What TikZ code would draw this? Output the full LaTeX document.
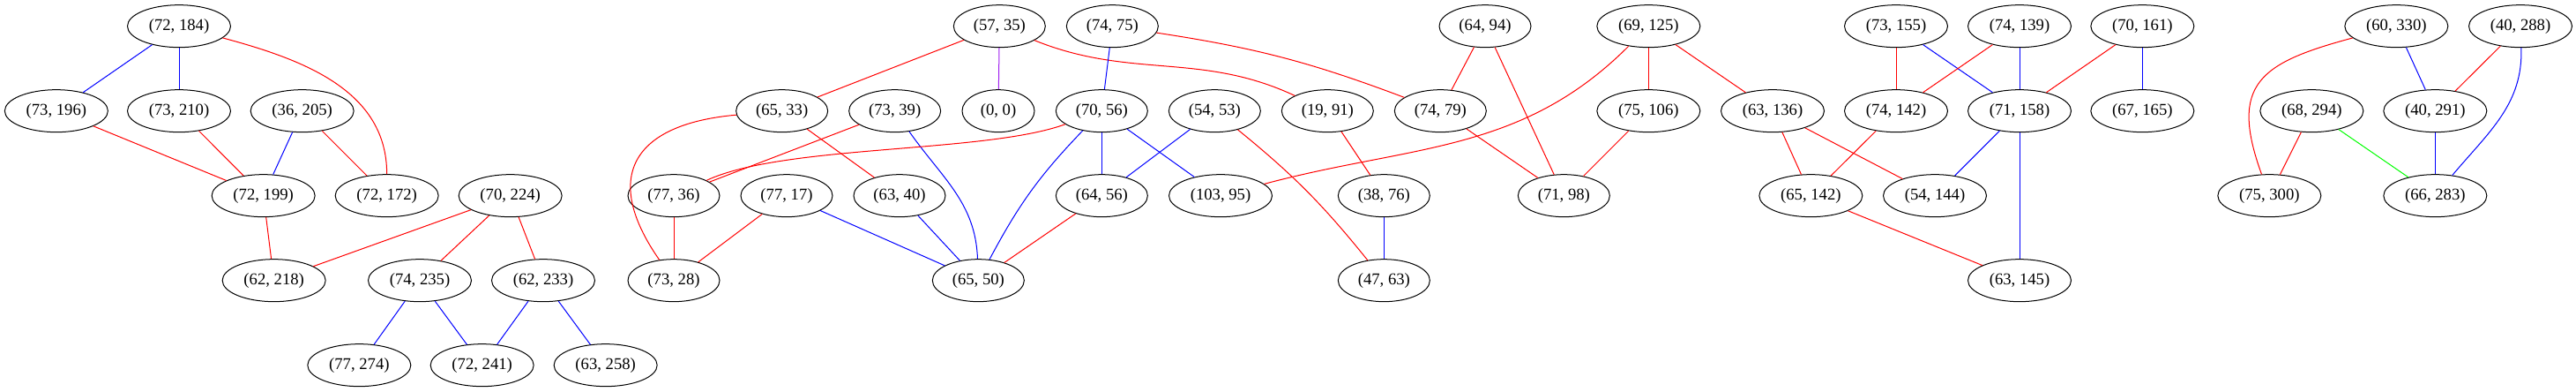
\documentclass[tikz,border=0pt]{standalone}
\usepackage{fontspec}
\setmainfont{Liberation Serif}
\usetikzlibrary{shapes.geometric}

\definecolor{gvPurple}{HTML}{A020F0}
\definecolor{gvGreen}{HTML}{00FF00}

\begin{document}
\begin{tikzpicture}[
    x=1pt, y=1pt,
    font=\fontsize{14}{16}\selectfont,
    vtx/.style={
        ellipse,
        draw=black,
        line width=0.75pt,
        inner sep=0pt,
        minimum width=87.75pt,
        minimum height=36pt
    },
    vtxmid/.style={
        vtx,
        minimum width=78pt
    },
    vtxsmall/.style={
        vtx,
        minimum width=61.5pt
    },
    redLink/.style={draw=red, line width=0.75pt},
    blueLink/.style={draw=blue, line width=0.75pt},
    greenLink/.style={draw=gvGreen, line width=0.75pt},
    purpleLink/.style={draw=gvPurple, line width=0.75pt}
]
    \useasboundingbox (0,0) rectangle (2190.75,332.25);

    % =======================================================
    % Rank 1
    % =======================================================
    \node[vtx] (n72x184) at (152.25, 310) {(72, 184)};
    \node[vtxmid] (n57x35) at (850, 310) {(57, 35)};
    \node[vtxmid] (n74x75) at (946, 310) {(74, 75)};
    \node[vtxmid] (n64x94) at (1263, 310) {(64, 94)};
    \node[vtx] (n69x125) at (1402, 310) {(69, 125)};
    \node[vtx] (n73x155) at (1612.5, 310) {(73, 155)};
    \node[vtx] (n74x139) at (1717.5, 310) {(74, 139)};
    \node[vtx] (n70x161) at (1822, 310) {(70, 161)};
    \node[vtx] (n60x330) at (2038, 310) {(60, 330)};
    \node[vtx] (n40x288) at (2143.5, 310) {(40, 288)};

    % =======================================================
    % Rank 2
    % =======================================================
    \node[vtx] (n73x196) at (47.9, 238) {(73, 196)};
    \node[vtx] (n73x210) at (152.25, 238) {(73, 210)};
    \node[vtx] (n36x205) at (257, 238) {(36, 205)};
    \node[vtxmid] (n65x33) at (665, 238) {(65, 33)};
    \node[vtxmid] (n73x39) at (761, 238) {(73, 39)};
    \node[vtxsmall] (n0x0) at (849, 238) {(0, 0)};
    \node[vtxmid] (n70x56) at (937, 238) {(70, 56)};
    \node[vtxmid] (n54x53) at (1033, 238) {(54, 53)};
    \node[vtxmid] (n19x91) at (1129, 238) {(19, 91)};
    \node[vtxmid] (n74x79) at (1225, 238) {(74, 79)};
    \node[vtx] (n75x106) at (1402, 238) {(75, 106)};
    \node[vtx] (n63x136) at (1507.5, 238) {(63, 136)};
    \node[vtx] (n74x142) at (1612.5, 238) {(74, 142)};
    \node[vtx] (n71x158) at (1717.5, 238) {(71, 158)};
    \node[vtx] (n67x165) at (1822, 238) {(67, 165)};
    \node[vtx] (n68x294) at (1966, 238) {(68, 294)};
    \node[vtx] (n40x291) at (2071, 238) {(40, 291)};

    % =======================================================
    % Rank 3
    % =======================================================
    \node[vtx] (n72x199) at (224, 166) {(72, 199)};
    \node[vtx] (n72x172) at (329, 166) {(72, 172)};
    \node[vtx] (n70x224) at (434, 166) {(70, 224)};
    \node[vtxmid] (n77x36) at (573, 166) {(77, 36)};
    \node[vtxmid] (n77x17) at (669, 166) {(77, 17)};
    \node[vtxmid] (n63x40) at (765, 166) {(63, 40)};
    \node[vtxmid] (n64x56) at (937, 166) {(64, 56)};
    \node[vtx] (n103x95) at (1038, 166) {(103, 95)};
    \node[vtxmid] (n38x76) at (1177, 166) {(38, 76)};
    \node[vtxmid] (n71x98) at (1330, 166) {(71, 98)};
    \node[vtx] (n65x142) at (1540, 166) {(65, 142)};
    \node[vtx] (n54x144) at (1645.5, 166) {(54, 144)};
    \node[vtx] (n75x300) at (1930, 166) {(75, 300)};
    \node[vtx] (n66x283) at (2071, 166) {(66, 283)};

    % =======================================================
    % Rank 4 and 5
    % =======================================================
    \node[vtx] (n62x218) at (233, 94) {(62, 218)};
    \node[vtx] (n74x235) at (357, 94) {(74, 235)};
    \node[vtx] (n62x233) at (462, 94) {(62, 233)};
    \node[vtxmid] (n73x28) at (573, 94) {(73, 28)};
    \node[vtxmid] (n65x50) at (832, 94) {(65, 50)};
    \node[vtxmid] (n47x63) at (1177, 94) {(47, 63)};
    \node[vtx] (n63x145) at (1717.5, 94) {(63, 145)};

    \node[vtx] (n77x274) at (305.5, 22) {(77, 274)};
    \node[vtx] (n72x241) at (410, 22) {(72, 241)};
    \node[vtx] (n63x258) at (515, 22) {(63, 258)};

    % =======================================================
    % Left component
    % =======================================================
    \draw[blueLink] (n72x184) -- (n73x196);
    \draw[blueLink] (n72x184) -- (n73x210);
    \draw[redLink] (n72x184) to[out=-15, in=90] (n72x172);
    \draw[redLink] (n73x196) -- (n72x199);
    \draw[redLink] (n73x210) -- (n72x199);
    \draw[blueLink] (n36x205) -- (n72x199);
    \draw[redLink] (n36x205) -- (n72x172);
    \draw[redLink] (n72x199) -- (n62x218);
    \draw[redLink] (n70x224) -- (n62x218);
    \draw[redLink] (n70x224) -- (n74x235);
    \draw[redLink] (n70x224) -- (n62x233);
    \draw[blueLink] (n74x235) -- (n77x274);
    \draw[blueLink] (n74x235) -- (n72x241);
    \draw[blueLink] (n62x233) -- (n72x241);
    \draw[blueLink] (n62x233) -- (n63x258);

    % =======================================================
    % Middle component
    % =======================================================
    \draw[redLink] (n57x35) -- (n65x33);
    \draw[purpleLink] (n57x35) -- (n0x0);
    \draw[redLink] (n57x35) to[out=-22, in=155] (n19x91);
    \draw[blueLink] (n74x75) -- (n70x56);
    \draw[redLink] (n74x75) to[bend left=6] (n74x79);
    \draw[redLink] (n65x33) to[out=185, in=125, looseness=1.6] (n73x28);
    \draw[redLink] (n65x33) -- (n63x40);
    \draw[redLink] (n73x39) -- (n77x36);
    \draw[blueLink] (n73x39) to[out=-55, in=92] (n65x50);
    \draw[redLink] (n70x56) to[out=200, in=25, looseness=0.6] (n77x36);
    \draw[blueLink] (n70x56) -- (n64x56);
    \draw[blueLink] (n70x56) -- (n103x95);
    \draw[blueLink] (n70x56) to[bend right=8] (n65x50);
    \draw[blueLink] (n54x53) -- (n64x56);
    \draw[redLink] (n54x53) to[bend left=6] (n47x63);
    \draw[redLink] (n77x36) -- (n73x28);
    \draw[redLink] (n77x17) -- (n73x28);
    \draw[blueLink] (n77x17) -- (n65x50);
    \draw[blueLink] (n63x40) -- (n65x50);
    \draw[redLink] (n64x56) -- (n65x50);
    \draw[redLink] (n19x91) -- (n38x76);
    \draw[blueLink] (n38x76) -- (n47x63);
    \draw[redLink] (n64x94) -- (n74x79);
    \draw[redLink] (n64x94) -- (n71x98);
    \draw[redLink] (n74x79) -- (n71x98);
    \draw[redLink] (n69x125) to[out=225, in=15] (n103x95);
    \draw[redLink] (n69x125) -- (n75x106);
    \draw[redLink] (n69x125) -- (n63x136);
    \draw[redLink] (n75x106) -- (n71x98);
    \draw[redLink] (n63x136) -- (n65x142);
    \draw[redLink] (n63x136) -- (n54x144);

    % =======================================================
    % Right components
    % =======================================================
    \draw[redLink] (n73x155) -- (n74x142);
    \draw[blueLink] (n73x155) -- (n71x158);
    \draw[redLink] (n74x139) -- (n74x142);
    \draw[blueLink] (n74x139) -- (n71x158);
    \draw[redLink] (n70x161) -- (n71x158);
    \draw[blueLink] (n70x161) -- (n67x165);
    \draw[redLink] (n74x142) -- (n65x142);
    \draw[blueLink] (n71x158) -- (n54x144);
    \draw[blueLink] (n71x158) -- (n63x145);
    \draw[redLink] (n65x142) -- (n63x145);

    \draw[redLink] (n60x330) to[out=195, in=110, looseness=1.5] (n75x300);
    \draw[blueLink] (n60x330) -- (n40x291);
    \draw[redLink] (n40x288) -- (n40x291);
    \draw[blueLink] (n40x288) to[out=-88, in=50] (n66x283);
    \draw[redLink] (n68x294) -- (n75x300);
    \draw[greenLink] (n68x294) -- (n66x283);
    \draw[blueLink] (n40x291) -- (n66x283);

\end{tikzpicture}
\end{document}
